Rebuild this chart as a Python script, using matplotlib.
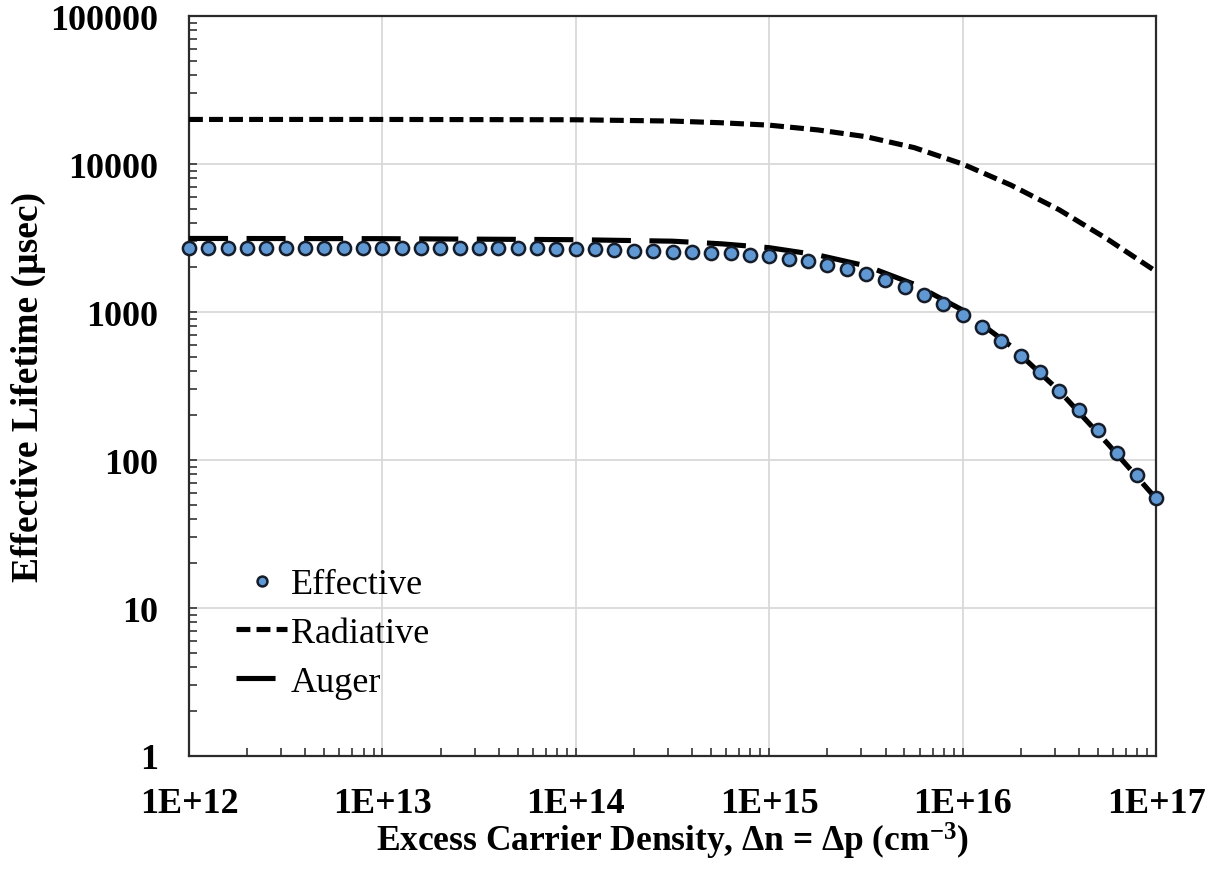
import matplotlib
matplotlib.use('Agg')
import matplotlib.pyplot as plt
from matplotlib.ticker import FixedLocator, FixedFormatter, LogLocator, NullFormatter
import numpy as np

# Police type Times (Liberation Serif est metriquement compatible)
plt.rcParams['font.family'] = ['Liberation Serif', 'DejaVu Serif']
plt.rcParams['mathtext.fontset'] = 'custom'
plt.rcParams['mathtext.rm'] = 'Liberation Serif:bold'
plt.rcParams['mathtext.bf'] = 'Liberation Serif:bold'
plt.rcParams['mathtext.default'] = 'rm'

# Densite de porteurs en exces : 10 points par decade de 1E+12 a 1E+17
densite = np.logspace(12, 17, 51)
duree_effective = [2720, 2720, 2720, 2720, 2720, 2720, 2720, 2720, 2720, 2720,
                   2720, 2720, 2720, 2720, 2720, 2715, 2710, 2700, 2690, 2680,
                   2665, 2650, 2630, 2600, 2580, 2560, 2540, 2520, 2489, 2430,
                   2375, 2280, 2197, 2065, 1941, 1796, 1636, 1467, 1295, 1127,
                   950, 789, 635, 504, 393, 292, 217, 160, 112, 79, 55]

# Courbes radiative et Auger
densite_courbes = [1e12, 1e13, 1e14, 10**14.5, 10**14.75, 1e15, 10**15.25, 10**15.5,
                   10**15.75, 1e16, 10**16.25, 10**16.5, 10**16.75, 1e17]
duree_radiative = [20000, 20000, 19900, 19500, 19000, 18300, 17000, 15300,
                   12900, 10000, 7200, 4900, 3100, 1880]
duree_auger = [3140, 3130, 3080, 3010, 2890, 2720, 2430, 2050,
               1540, 1030, 588, 293, 129, 55]

xticks = [1e12, 1e13, 1e14, 1e15, 1e16, 1e17]
xtick_labels = ['1E+12', '1E+13', '1E+14', '1E+15', '1E+16', '1E+17']
yticks = [1, 10, 100, 1000, 10000, 100000]
ytick_labels = ['1', '10', '100', '1000', '10000', '100000']

fig = plt.figure(figsize=(12.18, 8.70), dpi=100)
ax = fig.add_axes([189 / 1218, 1 - 757 / 870, 967 / 1218, 740 / 870])

ax.set_xscale('log')
ax.set_yscale('log')
ax.set_xlim(1e12, 1e17)
ax.set_ylim(1, 100000)

# Tracés
ax.plot(densite, duree_effective, linestyle='none', marker='o', markersize=9.5,
        markerfacecolor='#5f98d2', markeredgecolor='#151c2a', markeredgewidth=1.8,
        label='Effective', zorder=5, clip_on=False)
ax.plot(densite_courbes, duree_radiative, color='black', linewidth=3.7,
        dashes=(2.7, 1.2), label='Radiative', zorder=3)
ax.plot(densite_courbes, duree_auger, color='black', linewidth=3.7,
        dashes=(7.6, 3.6), label='Auger', zorder=3)

# Axes et graduations
ax.xaxis.set_major_locator(FixedLocator(xticks))
ax.xaxis.set_major_formatter(FixedFormatter(xtick_labels))
ax.yaxis.set_major_locator(FixedLocator(yticks))
ax.yaxis.set_major_formatter(FixedFormatter(ytick_labels))
ax.xaxis.set_minor_locator(LogLocator(base=10, subs=np.arange(2, 10), numticks=20))
ax.yaxis.set_minor_locator(LogLocator(base=10, subs=np.arange(2, 10), numticks=20))
ax.xaxis.set_minor_formatter(NullFormatter())
ax.yaxis.set_minor_formatter(NullFormatter())

ax.tick_params(which='both', direction='in', length=6, width=1.2, color='#333333')
ax.tick_params(axis='y', which='major', pad=22)
ax.tick_params(axis='x', which='major', pad=22)
for lab in ax.get_xticklabels() + ax.get_yticklabels():
    lab.set_fontsize(26)
    lab.set_fontweight('bold')

ax.grid(True, which='major', color='#d9d9d9', linewidth=1.3)
ax.set_axisbelow(True)
for sp in ax.spines.values():
    sp.set_linewidth(1.6)
    sp.set_color('#2b2b2b')

ax.set_xlabel('Excess Carrier Density, \u0394n = \u0394p (cm$^{-3}$)',
              fontsize=25.5, fontweight='bold', labelpad=0)
ax.set_ylabel('Effective Lifetime (\u00b5sec)', fontsize=27, fontweight='bold',
              labelpad=3)

ax.legend(loc='upper left', bbox_to_anchor=(0.049, 0.254), frameon=False,
          fontsize=26, handlelength=1.4, handletextpad=0.1, labelspacing=0.43,
          borderpad=0, borderaxespad=0, markerscale=0.75)

fig.savefig('out.png', dpi=100)
